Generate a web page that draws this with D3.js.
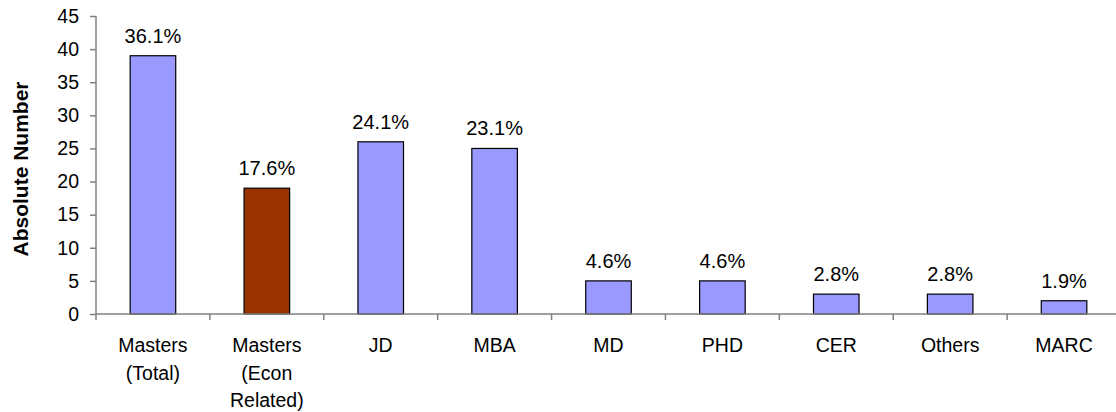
<!DOCTYPE html>
<html>
<head>
<meta charset="utf-8">
<script src="https://cdn.jsdelivr.net/npm/d3@7"></script>
<style>
  body { margin: 0; background: #fff; }
  svg { display: block; font-family: Arial, "Liberation Sans", sans-serif; }
</style>
</head>
<body>
<script>
const categories = [["Masters", "(Total)"], ["Masters", "(Econ", "Related)"], ["JD"], ["MBA"], ["MD"], ["PHD"], ["CER"], ["Others"], ["MARC"]];
const values = [39, 19, 26, 25, 5, 5, 3, 3, 2];
const shares = ["36.1%", "17.6%", "24.1%", "23.1%", "4.6%", "4.6%", "2.8%", "2.8%", "1.9%"];
const yTicks = [0, 5, 10, 15, 20, 25, 30, 35, 40, 45];

const w = 1116;
const h = 412;
const m = { left: 96, right: 1121, top: 16, bottom: 314 };

const svg = d3.select("body")
  .append("svg")
  .attr("width", w)
  .attr("height", h);

const x = d3.scaleBand()
  .domain(d3.range(values.length))
  .range([m.left, m.right])
  .paddingInner(0.6)
  .paddingOuter(0.3);

const xTick = d3.scaleLinear()
  .domain([0, values.length])
  .range([m.left, m.right]);

const y = d3.scaleLinear()
  .domain([0, 45])
  .range([m.bottom, m.top]);

// bars
svg.selectAll("rect.bar")
  .data(values)
  .enter()
  .append("rect")
  .attr("class", "bar")
  .attr("x", (d, i) => x(i))
  .attr("y", d => y(d))
  .attr("width", x.bandwidth())
  .attr("height", d => y(0) - y(d))
  .attr("fill", (d, i) => i === 1 ? "#993300" : "#9999ff")
  .attr("stroke", "#000")
  .attr("stroke-width", 1.2);

// value labels
svg.selectAll("text.val")
  .data(values)
  .enter()
  .append("text")
  .attr("class", "val")
  .attr("x", (d, i) => x(i) + x.bandwidth() / 2)
  .attr("y", d => y(d) - 13)
  .attr("text-anchor", "middle")
  .attr("font-size", 20)
  .attr("fill", "#000")
  .text((d, i) => shares[i]);

// y axis
const yAxis = svg.append("g")
  .attr("transform", `translate(${m.left},0)`)
  .call(d3.axisLeft(y).tickValues(yTicks).tickSize(6).tickPadding(11));
yAxis.selectAll("path, line").attr("stroke", "#808080").attr("stroke-width", 1.5);
yAxis.select(".domain").attr("d", `M0,${m.bottom}V${m.top}`);
yAxis.selectAll("text").attr("font-size", 19.5).attr("fill", "#000").attr("font-family", "Arial, 'Liberation Sans', sans-serif");

// x axis line and ticks between categories
svg.append("line")
  .attr("x1", m.left).attr("x2", w)
  .attr("y1", m.bottom).attr("y2", m.bottom)
  .attr("stroke", "#808080").attr("stroke-width", 1.5);

svg.selectAll("line.xtick")
  .data(d3.range(values.length + 1))
  .enter()
  .append("line")
  .attr("class", "xtick")
  .attr("x1", d => xTick(d)).attr("x2", d => xTick(d))
  .attr("y1", m.bottom).attr("y2", m.bottom + 6)
  .attr("stroke", "#808080").attr("stroke-width", 1.5);

// category labels
const cat = svg.selectAll("text.cat")
  .data(categories)
  .enter()
  .append("text")
  .attr("class", "cat")
  .attr("text-anchor", "middle")
  .attr("font-size", 19.5)
  .attr("fill", "#000");

cat.selectAll("tspan")
  .data((d, i) => d.map(t => ({ t, i })))
  .enter()
  .append("tspan")
  .attr("x", d => x(d.i) + x.bandwidth() / 2)
  .attr("y", (d, j) => 352 + j * 27.5)
  .text(d => d.t);

// y axis title
svg.append("text")
  .attr("transform", "translate(28,169) rotate(-90)")
  .attr("text-anchor", "middle")
  .attr("font-size", 21)
  .attr("font-weight", "bold")
  .attr("fill", "#000")
  .text("Absolute Number");
</script>
</body>
</html>
